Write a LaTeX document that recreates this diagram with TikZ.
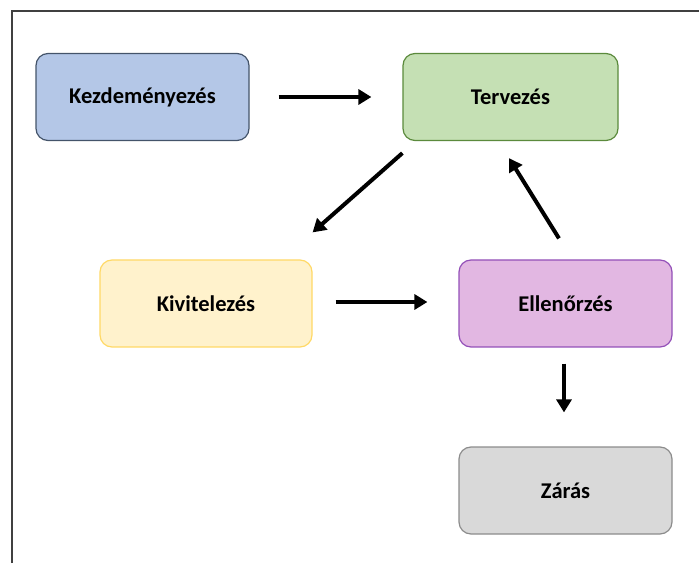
\documentclass[tikz,border=0pt]{standalone}
\usepackage{fontspec}
\setmainfont{Carlito}
\usetikzlibrary{arrows.meta,calc}
\begin{document}
\begin{tikzpicture}[x=1pt,y=1pt,
  phase/.style={rounded corners=12pt, line width=1.2pt, minimum width=213pt,
    minimum height=87pt, inner sep=0pt,
    font=\fontsize{22.5}{26}\selectfont\bfseries},
  flow/.style={line width=4pt, -{Triangle[length=13pt,width=15pt]}}]
\definecolor{kfill}{HTML}{B4C7E7}\definecolor{kline}{HTML}{44546A}
\definecolor{tfill}{HTML}{C5E0B4}\definecolor{tline}{HTML}{5B8A3C}
\definecolor{vfill}{HTML}{FFF2CC}\definecolor{vline}{HTML}{FFD966}
\definecolor{efill}{HTML}{E2B7E2}\definecolor{eline}{HTML}{9350B8}
\definecolor{zfill}{HTML}{D9D9D9}\definecolor{zline}{HTML}{8C8C8C}
\definecolor{frame}{HTML}{404040}
\useasboundingbox (0,0) rectangle (699,563);
% page frame: top and left edges only
\draw[frame, line width=1.5pt] (12,0) -- (12,552) -- (699,552);
% phases
\node[phase, fill=kfill, draw=kline] (k) at (142.5,466) {Kezdeményezés};
\node[phase, fill=tfill, draw=tline, minimum width=215pt] (t) at (510.5,466) {Tervezés};
\node[phase, fill=vfill, draw=vline, minimum width=212pt] (v) at (206,259.5) {Kivitelezés};
\node[phase, fill=efill, draw=eline] (e) at (565.5,259.5) {Ellenőrzés};
\node[phase, fill=zfill, draw=zline] (z) at (565.5,72.5) {Zárás};
% transitions
\draw[flow] ($(k.east)+(29,0)$) -- ($(t.west)+(-31,0)$);
\draw[flow] ($(t.south west)+(0,-12)$) -- ($(v.north east)+(0,27)$);
\draw[flow] ($(v.east)+(23,1.5)$) -- ($(e.west)+(-31,1.5)$);
\draw[flow] ($(e.north)+(-6.5,21)$) -- ($(t.south)+(-1.5,-17)$);
\draw[flow] ($(e.south)+(-1.5,-16)$) -- ($(z.north)+(-1.5,34)$);
\end{tikzpicture}
\end{document}
